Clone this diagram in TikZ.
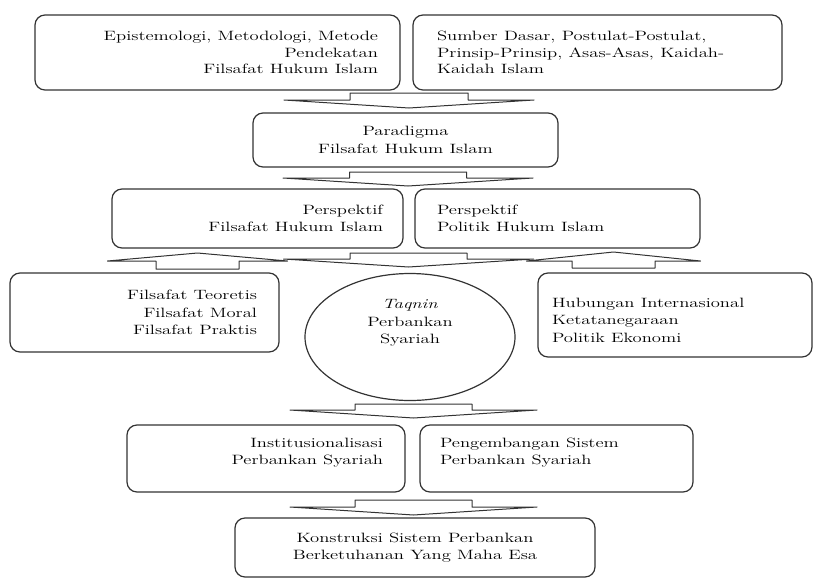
\documentclass[tikz,border=0pt]{standalone}
\usepackage{graphicx}
\usetikzlibrary{shapes.geometric}
\newcommand\sx[1]{\scalebox{1.38}[1]{#1}}
\newcommand\flatblock[6]{% cx, stub half, head half, stub end, head base, tip
  \draw[flatarrow] ({#1-#2},#4) -- ({#1+#2},#4) -- ({#1+#2},#5) -- ({#1+#3},#5)
    -- (#1,#6) -- ({#1-#3},#5) -- ({#1-#2},#5) -- cycle;}
\tikzset{
  box/.style={draw=black!80, line width=1.2pt, rounded corners=10pt, inner ysep=1pt,
    font=\fontsize{13.5}{17.5}\selectfont},
  lbl/.style={font=\fontsize{13.5}{17.5}\selectfont, inner sep=0pt},
  flatarrow/.style={draw=black!80, line width=1pt, line join=round}
}
\begin{document}
\begin{tikzpicture}[x=1pt,y=-1pt]
\useasboundingbox (0,0) rectangle (814,579);
% top row
\node[box, minimum width=365pt, minimum height=75pt, text width=321pt, inner xsep=22pt,
  align=right, font=\fontsize{13.5}{16.5}\selectfont] (b1) at (217.5,52.5)
  {\sx{Epistemologi, Metodologi, Metode}\\\sx{Pendekatan}\\\sx{Filsafat Hukum Islam}};
\node[box, minimum width=369pt, minimum height=75pt, text width=321pt, inner xsep=24pt,
  align=left, font=\fontsize{13.5}{16.5}\selectfont] (b2) at (597.5,52.5)
  {\sx{Sumber Dasar, Postulat-Postulat,}\\\sx{Prinsip-Prinsip, Asas-Asas, Kaidah-}\\\sx{Kaidah Islam}};
\flatblock{409}{59}{125}{93}{100}{108}
% paradigma
\node[box, minimum width=305pt, minimum height=54pt, text width=280pt, inner xsep=12.5pt,
  align=center] (p) at (405.5,140) {\sx{Paradigma}\\\sx{Filsafat Hukum Islam}};
\flatblock{408}{58.5}{125}{172}{178}{186}
% perspektif
\node[box, minimum width=291pt, minimum height=59pt, text width=251pt, inner xsep=20pt,
  align=right] (pl) at (257.5,218.5) {\sx{Perspektif}\\\sx{Filsafat Hukum Islam}};
\node[box, minimum width=285pt, minimum height=59pt, text width=241pt, inner xsep=22pt,
  align=left] (pr) at (557.5,218.5) {\sx{Perspektif}\\\sx{Politik Hukum Islam}};
% arrows between perspektif and the middle row
\flatblock{408.5}{58.5}{125}{253}{259}{267}
\flatblock{197.5}{41.5}{90}{269}{261}{253}
\flatblock{613.5}{41.5}{87}{268}{261}{252}
% middle row
\node[box, minimum width=269pt, minimum height=79pt, text width=225pt, inner xsep=22pt,
  align=right] (l) at (144.5,312.5) {\sx{Filsafat Teoretis}\\\sx{Filsafat Moral}\\\sx{Filsafat Praktis}};
\node[ellipse, draw=black!80, line width=1.2pt, minimum width=210pt, minimum height=127pt,
  inner sep=0pt,
  label={[name=ct, lbl, align=center, yshift=14pt]center:{\sx{\textit{Taqnin}}\\\sx{Perbankan}\\\sx{Syariah}}}]
  (c) at (410,337) {};
\node[box, minimum width=274pt, minimum height=84pt,
  label={[name=rt, lbl, align=left, text width=246pt, yshift=-5pt]center:{\sx{Hubungan Internasional}\\\sx{Ketatanegaraan}\\\sx{Politik Ekonomi}}}]
  (r) at (675,315) {};
\flatblock{413.5}{58.5}{123.5}{404}{410}{418}
% lower row
\node[box, minimum width=278pt, minimum height=67pt,
  label={[name=it, lbl, align=right, text width=234pt, yshift=6pt]center:{\sx{Institusionalisasi}\\\sx{Perbankan Syariah}}}]
  (i) at (266,458.5) {};
\node[box, minimum width=273pt, minimum height=67pt,
  label={[name=gt, lbl, align=left, text width=233pt, yshift=6pt]center:{\sx{Pengembangan Sistem}\\\sx{Perbankan Syariah}}}]
  (g) at (556.5,458.5) {};
\flatblock{413.5}{58.5}{123.5}{500}{507}{515}
% bottom
\node[box, minimum width=360pt, minimum height=59pt, text width=330pt, inner xsep=15pt,
  align=center] (k) at (415,547.5) {\sx{Konstruksi Sistem Perbankan}\\\sx{Berketuhanan Yang Maha Esa}};
\end{tikzpicture}
\end{document}
